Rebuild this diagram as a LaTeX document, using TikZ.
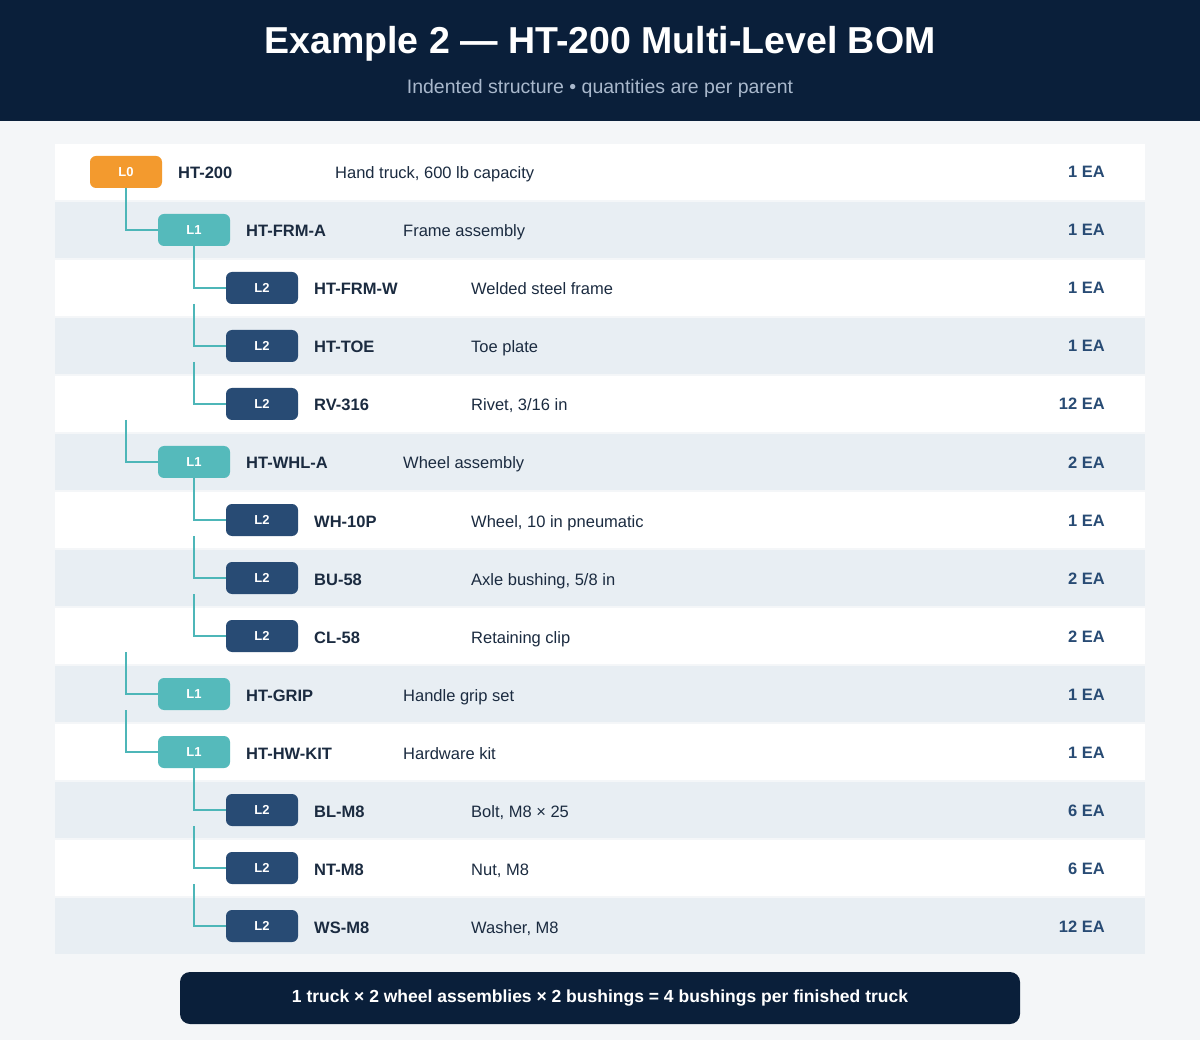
\documentclass[tikz,border=0pt]{standalone}
\usepackage{fontspec}
\setmainfont{Liberation Sans}
\definecolor{navy}{HTML}{0A1F3A}
\definecolor{bg}{HTML}{F4F6F8}
\definecolor{alt}{HTML}{E8EEF3}
\definecolor{sub}{HTML}{A9B8CC}
\definecolor{lzero}{HTML}{F39A2E}
\definecolor{lone}{HTML}{55BABB}
\definecolor{ltwo}{HTML}{284B74}
\definecolor{txt}{HTML}{1B2B40}
\definecolor{conn}{HTML}{4DB6B8}
\begin{document}
\begin{tikzpicture}[x=1pt,y=-1pt,
  badge/.style={rounded corners=6pt,minimum width=72pt,minimum height=32pt,inner sep=0pt,text=white,font=\bfseries\fontsize{13}{13}\selectfont},
  part/.style={anchor=base west,text=txt,font=\bfseries\fontsize{16.5}{16}\selectfont,inner sep=0pt},
  desc/.style={anchor=base west,text=txt,font=\fontsize{16.5}{16}\selectfont,inner sep=0pt},
  qty/.style={anchor=base east,text=ltwo,font=\bfseries\fontsize{16.5}{16}\selectfont,inner sep=0pt},
  link/.style={draw=conn,line width=2.2pt}]
\fill[bg] (0,0) rectangle (1200,1040);
\useasboundingbox (0,0) rectangle (1200,1040);
\fill[navy] (0,0) rectangle (1200,121);
\node[text=white,font=\bfseries\fontsize{37.5}{37}\selectfont] (title) at (600,44) {Example 2 — HT-200 Multi-Level BOM};
\node[text=sub,font=\fontsize{19.5}{19}\selectfont] (subtitle) at (600,88) {Indented structure • quantities are per parent};
\foreach \i/\lv/\pn/\ds/\q [count=\k from 0] in {
 0/0/HT-200/{Hand truck, 600 lb capacity}/1 EA,
 1/1/HT-FRM-A/Frame assembly/1 EA,
 2/2/HT-FRM-W/Welded steel frame/1 EA,
 3/2/HT-TOE/Toe plate/1 EA,
 4/2/RV-316/{Rivet, 3/16 in}/12 EA,
 5/1/HT-WHL-A/Wheel assembly/2 EA,
 6/2/WH-10P/{Wheel, 10 in pneumatic}/1 EA,
 7/2/BU-58/{Axle bushing, 5/8 in}/2 EA,
 8/2/CL-58/Retaining clip/2 EA,
 9/1/HT-GRIP/Handle grip set/1 EA,
 10/1/HT-HW-KIT/Hardware kit/1 EA,
 11/2/BL-M8/{Bolt, M8 × 25}/6 EA,
 12/2/NT-M8/{Nut, M8}/6 EA,
 13/2/WS-M8/{Washer, M8}/12 EA}{
  \pgfmathsetmacro{\cy}{172+58*\i}
  \pgfmathtruncatemacro{\odd}{mod(\i,2)}
  \ifnum\odd=1 \fill[alt] (55,\cy-28) rectangle (1145,\cy+28);
  \else \fill[white] (55,\cy-28) rectangle (1145,\cy+28); \fi
  \pgfmathsetmacro{\bx}{126+68*\lv}
  \ifcase\lv \def\bc{lzero}\or \def\bc{lone}\or \def\bc{ltwo}\fi
  \node[badge,fill=\bc] (b\i) at (\bx,\cy) {L\lv};
  \node[part] (p\i) at (\bx+52,\cy+7) {\pn};
  \node[desc] (d\i) at (\bx+209,\cy+7) {\ds};
  \node[qty] (q\i) at (1105,\cy+6) {\q};
  \ifnum\lv>0
    \coordinate (t\i) at (\bx-68,\cy-42);
    \draw[link] (t\i) |- (b\i.west);
  \fi
}
\node[fill=navy,rounded corners=10pt,minimum width=840pt,minimum height=52pt,text=white,font=\bfseries\fontsize{17.5}{17}\selectfont] (foot) at (600,998) {1 truck × 2 wheel assemblies × 2 bushings = 4 bushings per finished truck};
\end{tikzpicture}
\end{document}
